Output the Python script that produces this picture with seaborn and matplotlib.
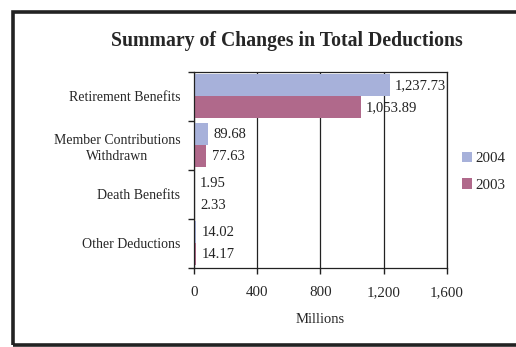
import numpy as np
import pandas as pd
import matplotlib.pyplot as plt
import seaborn as sns
from matplotlib.patches import Rectangle

categories = ['Retirement Benefits', 'Member Contributions\nWithdrawn',
              'Death Benefits', 'Other Deductions']
values_2004 = [1237.73, 89.68, 1.95, 14.02]
values_2003 = [1053.89, 77.63, 2.33, 14.17]
years = ['2004', '2003']
x_ticks = [0, 400, 800, 1200, 1600]

df = pd.DataFrame({
    'category': categories * 2,
    'value': values_2004 + values_2003,
    'year': ['2004'] * 4 + ['2003'] * 4,
})

sns.set_style('white')
plt.rcParams['font.family'] = ['Liberation Serif', 'DejaVu Serif']

fig = plt.figure(figsize=(5.16, 3.47), dpi=100)
ax = fig.add_axes([0.376, 0.228, 0.49, 0.565])

sns.barplot(data=df, y='category', x='value', hue='year', hue_order=years,
            order=categories, orient='h', width=0.9, linewidth=0,
            palette=['#a7b1da', '#b0698b'], saturation=1, ax=ax, zorder=2)

for cont in ax.containers:
    ax.bar_label(cont, labels=[f'{v:,.2f}' for v in cont.datavalues],
                 padding=4, fontsize=10.5, color='#222222')

ax.set_xlim(0, 1600)
ax.set_xticks(x_ticks)
ax.set_xticklabels([f'{t:,}' for t in x_ticks], fontsize=10.8)
ax.set_ylim(3.5, -0.5)
ax.set_yticks(range(len(categories)))
ax.set_yticklabels(categories, fontsize=10, ha='right', multialignment='center',
                   linespacing=1.3)
ax.set_yticks(np.arange(-0.5, 4.0, 1.0), minor=True)
ax.tick_params(axis='y', which='major', length=0, pad=10)
ax.tick_params(axis='y', which='minor', length=4, width=1, color='#222222', direction='out', left=True)
ax.tick_params(axis='x', which='major', length=4, width=1, color='#222222', direction='out', bottom=True, pad=9)
ax.grid(axis='x', color='#222222', linewidth=0.9, zorder=0)
ax.set_axisbelow(True)
for s in ax.spines.values():
    s.set_color('#222222')
    s.set_linewidth(0.9)

ax.set_ylabel('')
ax.set_xlabel('Millions', fontsize=10.5, labelpad=10)

ax.legend(loc='center left', bbox_to_anchor=(1.005, 0.49), frameon=False,
          fontsize=10.8, handlelength=0.7, handleheight=0.7, labelspacing=0.85,
          handletextpad=0.2)

fig.suptitle('Summary of Changes in Total Deductions', x=0.555, y=0.91,
             fontsize=14.2, fontweight='bold')

fig.patches.append(Rectangle((0.025, 0.006), 1.0, 0.96, transform=fig.transFigure,
                             fill=False, linewidth=2.6, edgecolor='#222222'))

plt.savefig('out.png', dpi=100)
